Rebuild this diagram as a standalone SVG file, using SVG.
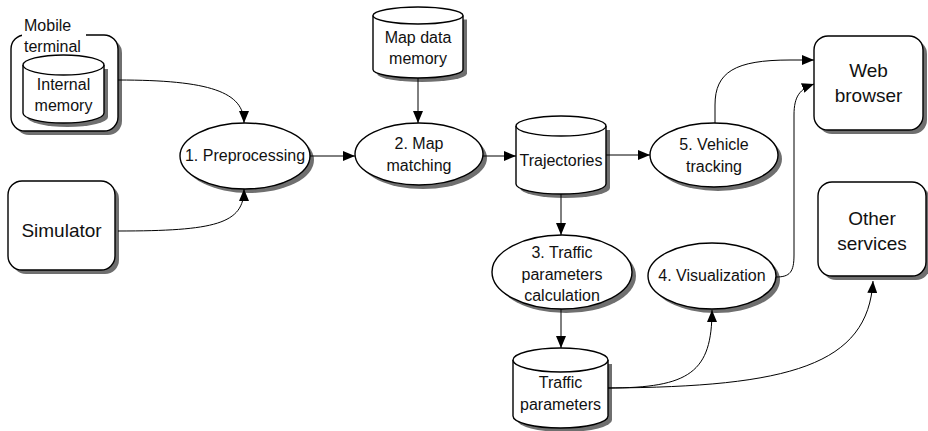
<svg xmlns="http://www.w3.org/2000/svg" width="928" height="431" viewBox="0 0 928 431">
  <style>
    .shape { fill: #fff; stroke: #000; stroke-width: 1.4; }
    .shadow { fill: #6f6f6f; stroke: none; }
    .edge { fill: none; stroke: #000; stroke-width: 1; marker-end: url(#arrow); }
    text { font-family: "Liberation Sans", Arial, sans-serif; font-size: 16px; fill: #111; text-anchor: middle; }
    .big { font-size: 19px; }
    .corner { text-anchor: start; }
  </style>
  <defs>
    <marker id="arrow" viewBox="0 0 12 10" refX="12" refY="5" markerWidth="12" markerHeight="10" markerUnits="userSpaceOnUse" orient="auto">
      <path d="M0,0 L12,5 L0,10 Z" fill="#000"/>
    </marker>
  </defs>

  <!-- Mobile terminal containing the internal memory store -->
  <g id="mobile-terminal">
    <rect class="shadow" x="15" y="39" width="107" height="96" rx="14"/>
    <rect class="shape" x="11" y="35" width="107" height="96" rx="14"/>
    <rect x="22" y="30" width="64" height="10" fill="#fff"/>
    <text class="corner" x="24" y="31">Mobile</text>
    <text class="corner" x="24" y="52">terminal</text>
  </g>
  <g id="internal-memory">
    <path class="shadow" d="M108,69 V117 A40.5,10 0 0 1 27,117 V69 Z"/>
    <path class="shape" d="M23,65 V113 A40.5,10 0 0 0 104,113 V65"/>
    <ellipse class="shape" cx="63.5" cy="65" rx="40.5" ry="10"/>
    <text x="63.5" y="90">Internal</text>
    <text x="63.5" y="111">memory</text>
  </g>

  <g id="simulator">
    <rect class="shadow" x="12" y="185" width="107" height="89" rx="14"/>
    <rect class="shape" x="8" y="181" width="107" height="89" rx="14"/>
    <text class="big" x="61.5" y="237">Simulator</text>
  </g>

  <g id="preprocessing">
    <ellipse class="shadow" cx="249" cy="160" rx="65" ry="33"/>
    <ellipse class="shape" cx="245" cy="156" rx="65" ry="33"/>
    <text x="245" y="161">1. Preprocessing</text>
  </g>

  <g id="map-data-memory">
    <path class="shadow" d="M467,19.5 V73.5 A45,8.5 0 0 1 377,73.5 V19.5 Z"/>
    <path class="shape" d="M373,15.5 V69.5 A45,8.5 0 0 0 463,69.5 V15.5"/>
    <ellipse class="shape" cx="418" cy="15.5" rx="45" ry="8.5"/>
    <text x="418" y="43">Map data</text>
    <text x="418" y="64">memory</text>
  </g>

  <g id="map-matching">
    <ellipse class="shadow" cx="423" cy="158" rx="64" ry="31"/>
    <ellipse class="shape" cx="419" cy="154" rx="64" ry="31"/>
    <text x="419" y="149">2. Map</text>
    <text x="419" y="171">matching</text>
  </g>

  <g id="trajectories">
    <path class="shadow" d="M610,130 V188 A45,10 0 0 1 520,188 V130 Z"/>
    <path class="shape" d="M516,126 V184 A45,10 0 0 0 606,184 V126"/>
    <ellipse class="shape" cx="561" cy="126" rx="45" ry="10"/>
    <text x="561" y="166">Trajectories</text>
  </g>

  <g id="vehicle-tracking">
    <ellipse class="shadow" cx="718" cy="159" rx="64" ry="32"/>
    <ellipse class="shape" cx="714" cy="155" rx="64" ry="32"/>
    <text x="714" y="150">5. Vehicle</text>
    <text x="714" y="172">tracking</text>
  </g>

  <g id="web-browser">
    <rect class="shadow" x="818" y="40" width="109" height="94" rx="14"/>
    <rect class="shape" x="814" y="36" width="109" height="94" rx="14"/>
    <text class="big" x="868.5" y="77">Web</text>
    <text class="big" x="868.5" y="102">browser</text>
  </g>

  <g id="traffic-calculation">
    <ellipse class="shadow" cx="566" cy="276" rx="70" ry="37"/>
    <ellipse class="shape" cx="562" cy="272" rx="70" ry="37"/>
    <text x="562" y="258">3. Traffic</text>
    <text x="562" y="280">parameters</text>
    <text x="562" y="301">calculation</text>
  </g>

  <g id="visualization">
    <ellipse class="shadow" cx="716" cy="280" rx="64" ry="33"/>
    <ellipse class="shape" cx="712" cy="276" rx="64" ry="33"/>
    <text x="712" y="281">4. Visualization</text>
  </g>

  <g id="other-services">
    <rect class="shadow" x="822" y="186" width="108" height="94" rx="14"/>
    <rect class="shape" x="818" y="182" width="108" height="94" rx="14"/>
    <text class="big" x="872" y="225">Other</text>
    <text class="big" x="872" y="250">services</text>
  </g>

  <g id="traffic-parameters">
    <path class="shadow" d="M612,364 V420 A47.5,12 0 0 1 517,420 V364 Z"/>
    <path class="shape" d="M513,360 V416 A47.5,12 0 0 0 608,416 V360"/>
    <ellipse class="shape" cx="560.5" cy="360" rx="47.5" ry="12"/>
    <text x="560.5" y="388">Traffic</text>
    <text x="560.5" y="410">parameters</text>
  </g>

  <g id="connectors">
    <path class="edge" d="M118,80 C210,80 244,92 244,123"/>
    <path class="edge" d="M118,231 C215,231 244,224 244,189"/>
    <path class="edge" d="M310,156 L355,156"/>
    <path class="edge" d="M418,78 L418,123"/>
    <path class="edge" d="M483,156 L516,156"/>
    <path class="edge" d="M606,155 L650,155"/>
    <path class="edge" d="M561,194 L561,235"/>
    <path class="edge" d="M561,309 L561,348"/>
    <path class="edge" d="M715,123 L715,105 C715,72 735,60 790,60 L814,60"/>
    <path class="edge" d="M776,277 C790,277 794,272 794,255 L794,115 C794,96 800,89 814,84"/>
    <path class="edge" d="M608,388 C690,388 712,372 712,310"/>
    <path class="edge" d="M608,388 C790,387 868,365 873,281"/>
  </g>
</svg>
